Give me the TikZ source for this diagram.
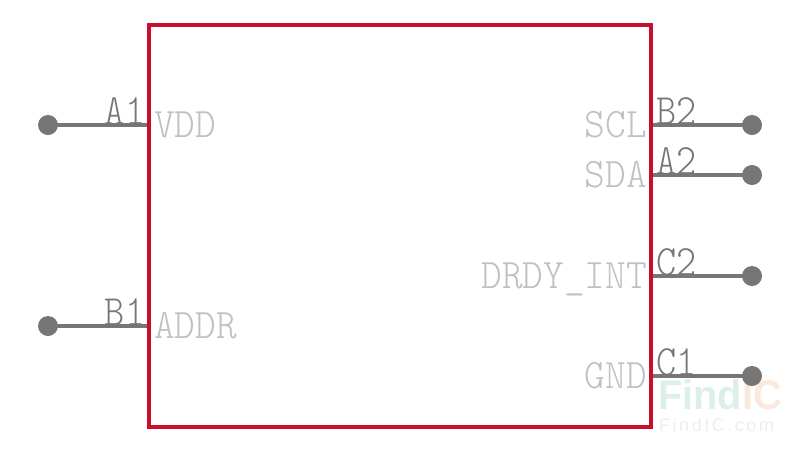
\documentclass[tikz,border=0pt]{standalone}
\usepackage{fontspec}
\setmonofont{Latin Modern Mono Light}
\setsansfont{Liberation Sans}
\definecolor{pinc}{HTML}{767676}
\definecolor{sigc}{HTML}{C0C0C0}
\definecolor{boxc}{HTML}{C8102E}
\definecolor{wmt}{HTML}{DCEFEB}
\definecolor{wmo}{HTML}{FBE9DD}
\definecolor{wmg}{HTML}{EDEDED}
\tikzset{
  x=1pt,y=-1pt,
  pinline/.style={draw=pinc,line width=4pt},
  pindot/.style={circle,fill=pinc,minimum size=20pt,inner sep=0pt,outer sep=0pt},
  pinname/.style={text=pinc,inner sep=0pt,font=\ttfamily\fontsize{40}{40}\selectfont,xscale=.96,yscale=1.08},
  signame/.style={text=sigc,inner sep=0pt,font=\ttfamily\fontsize{40}{40}\selectfont,xscale=.985,yscale=1.05},
  body/.style={draw=boxc,line width=3.6pt,line join=miter},
  wmbig/.style={anchor=base west,inner sep=0pt,font=\sffamily\bfseries\fontsize{39}{39}\selectfont,xscale=1.02,yscale=1.06},
}
\begin{document}
\begin{tikzpicture}
\useasboundingbox (0,0) rectangle (800,451);
\node[wmbig,text=wmt] (wm1) at (658,409) {Find};
\node[wmbig,text=wmo] (wm2) at (wm1.base east) {IC};
\node[anchor=base west,inner sep=0pt,text=wmg,font=\sffamily\fontsize{18}{18}\selectfont\addfontfeature{LetterSpace=14}] (wm3) at (659,431) {FindIC.com};
\coordinate (tl) at (149,25);
\coordinate (br) at (651,427);
\foreach \n/\y in {a/125,b/326}{
  \node[pindot] (d\n) at (48,\y) {};
  \coordinate (e\n) at (149,\y);
  \draw[pinline] (d\n.center) -- (e\n);
}
\foreach \n/\y in {c/125,d/175,e/276,f/376}{
  \node[pindot] (r\n) at (752,\y) {};
  \coordinate (s\n) at (651,\y);
  \draw[pinline] (r\n.center) -- (s\n);
}
\draw[body] (tl) rectangle (br);
\node[pinname,anchor=base east] (A1) at (145.5,124) {A1};
\node[pinname,anchor=base east] (B1) at (145.5,325) {B1};
\node[pinname,anchor=base west] (B2) at (656,124) {B2};
\node[pinname,anchor=base west] (A2) at (656,174) {A2};
\node[pinname,anchor=base west] (C2) at (656,275) {C2};
\node[pinname,anchor=base west] (C1) at (656,375) {C1};
\node[signame,anchor=base west] (VDD) at (154,137) {VDD};
\node[signame,anchor=base west] (ADDR) at (154,338) {ADDR};
\node[signame,anchor=base east] (SCL) at (647,137) {SCL};
\node[signame,anchor=base east] (SDA) at (647,187) {SDA};
\node[signame,anchor=base east] (DRDY) at (647,288) {DRDY\_INT};
\node[signame,anchor=base east] (GND) at (647,388) {GND};
\end{tikzpicture}
\end{document}
